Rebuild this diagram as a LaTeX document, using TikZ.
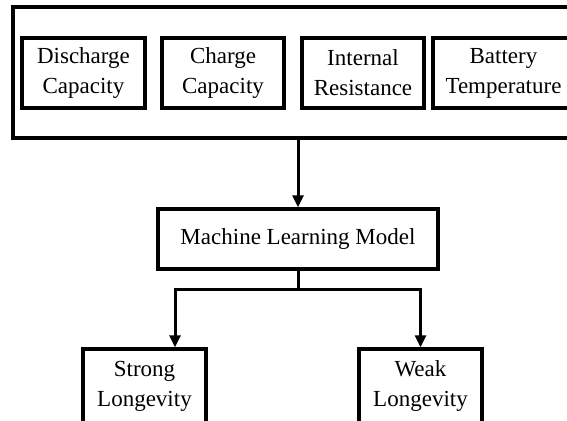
\documentclass[tikz,border=0pt]{standalone}
\usepackage{fontspec}
\setmainfont{Liberation Serif}
\usetikzlibrary{arrows.meta}

\begin{document}
\begin{tikzpicture}[x=1pt,y=1pt,
  box/.style={draw,line width=3.4pt,align=center,inner sep=0pt,font=\fontsize{23}{30}\selectfont},
  arr/.style={line width=3pt,-{Triangle[width=11pt,length=12pt]}}]
\useasboundingbox (0,0) rectangle (567,420);

\node [draw,line width=3.2pt,inner sep=0pt,minimum width=577pt,minimum height=131pt] (inputs) at (301.5,347.5) {};
\node [box,minimum width=123pt,minimum height=70pt] (dc) at (83.5,347) {Discharge\\Capacity};
\node [box,minimum width=122pt,minimum height=70pt] (cc) at (223,347) {Charge\\Capacity};
\node [box,minimum width=122pt,minimum height=70pt] (ir) at (363,347) {Internal\\Resistance};
\node [box,minimum width=141pt,minimum height=70pt] (bt) at (503.5,347) {Battery\\Temperature};

\node [box,minimum width=280pt,minimum height=60pt] (mlm) at (298,181) {Machine Learning Model};

\node [box,minimum width=123pt,minimum height=74pt] (strong) at (144.5,34) {Strong\\Longevity};
\node [box,minimum width=123pt,minimum height=74pt] (weak) at (420.5,34) {Weak\\Longevity};

\coordinate (fork) at (298,130);
\coordinate (sin) at (175,71);

\draw [arr] (inputs.south -| mlm.north) -- (mlm.north);
\draw [line width=3pt] (mlm.south) -- (fork);
\draw [arr] (fork) -| (sin |- strong.north);
\draw [arr] (fork) -| (weak.north);

\end{tikzpicture}
\end{document}
